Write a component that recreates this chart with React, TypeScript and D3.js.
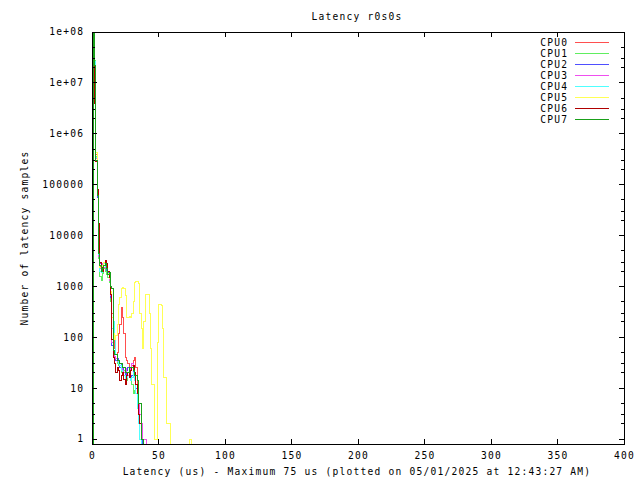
import React from 'react';
import * as d3 from 'd3';

// latency histogram, one count per microsecond bin (0 = no samples)
const cpuNames = ['CPU0', 'CPU1', 'CPU2', 'CPU3', 'CPU4', 'CPU5', 'CPU6', 'CPU7'];
const cpuColors = ['#ff4f4f', '#60ee60', '#4f4fff', '#ef4fef', '#4fffff', '#ffff55', '#b00000', '#1aa01a'];

const cpu0 = [0, 9e7, 1.8e7, 4e5, 7e4, 1.2e4, 2500, 2000, 1800, 2200, 2600, 2400, 2000, 1500, 700, 300, 90, 60, 45, 50, 120, 180, 380, 250, 120, 40, 35, 30, 25, 22, 28, 35, 40, 25, 10, 4, 2, 1, 0];
const cpu1 = [0, 9.5e7, 2.8e7, 3.5e5, 6e4, 3500, 1600, 1300, 1800, 2200, 2000, 1700, 1500, 1200, 500, 90, 50, 40, 35, 30, 28, 25, 20, 18, 22, 16, 14, 18, 20, 15, 12, 8, 9, 12, 6, 3, 1, 0];
const cpu2 = [0, 9.3e7, 2e7, 3e5, 5.5e4, 4000, 2800, 2300, 2500, 3000, 2600, 2100, 1900, 1400, 600, 70, 45, 40, 35, 38, 30, 26, 30, 24, 20, 18, 22, 25, 20, 16, 18, 22, 15, 10, 6, 2, 2, 1, 0];
const cpu3 = [0, 9.2e7, 2e7, 3.2e5, 6e4, 3800, 2200, 2600, 2800, 2400, 2700, 2200, 1700, 1300, 650, 80, 50, 42, 38, 34, 30, 28, 25, 22, 20, 24, 20, 18, 22, 26, 30, 24, 18, 12, 8, 5, 3, 2, 1, 1, 1, 0];
const cpu4 = [0, 9.4e7, 2.6e7, 3.4e5, 6.5e4, 4200, 2000, 1900, 2400, 2800, 2500, 2300, 1800, 1500, 800, 150, 200, 90, 45, 35, 30, 28, 22, 20, 18, 15, 16, 20, 18, 14, 16, 20, 14, 8, 4, 2, 1, 0];
const cpu5 = [0, 9e7, 2.2e7, 4.3e5, 7.5e4, 5000, 2400, 2100, 2600, 3000, 2700, 2200, 1800, 1400, 800, 250, 120, 90, 110, 180, 450, 600, 900, 950, 900, 650, 250, 250, 260, 240, 300, 500, 1200, 1250, 1250, 1150, 300, 150, 60, 200, 700, 700, 700, 300, 60, 12, 12, 1, 1, 80, 450, 450, 430, 150, 16, 16, 2, 2, 2, 0, 0, 0, 0, 0, 0, 0, 0, 0, 0, 0, 0, 0, 0, 1, 1, 0];
const cpu6 = [0, 1e8, 4e6, 2.8e5, 8e4, 1.7e4, 3000, 2400, 2000, 2600, 3200, 2800, 2000, 1500, 700, 90, 40, 30, 20, 25, 22, 14, 18, 20, 15, 12, 18, 20, 16, 22, 25, 28, 20, 12, 8, 3, 2, 1, 1, 0];
const cpu7 = [0, 9.5e7, 2.2e7, 3e5, 6e4, 4500, 2600, 2000, 2200, 2600, 2800, 2300, 1700, 1900, 1000, 900, 55, 45, 45, 35, 35, 30, 30, 25, 25, 20, 20, 20, 25, 25, 25, 22, 18, 18, 14, 5, 5, 1, 1, 0];

const series = [cpu0, cpu1, cpu2, cpu3, cpu4, cpu5, cpu6, cpu7];

const xTicks = [0, 50, 100, 150, 200, 250, 300, 350, 400];
const yTicks = [1, 10, 100, 1000, 10000, 100000, 1e6, 1e7, 1e8];
const yTickLabels = ['1', '10', '100', '1000', '10000', '100000', '1e+06', '1e+07', '1e+08'];
const minorSteps = [2, 3, 5];

const title = 'Latency r0s0s';
const xTitle = 'Latency (us) - Maximum 75 us (plotted on 05/01/2025 at 12:43:27 AM)';
const yTitle = 'Number of latency samples';

const W = 640;
const H = 480;
const left = 92;
const right = 624;
const top = 32;
const bottom = 444;

// small mono font with wide spacing, roughly the 7px cell of gnuplot's bitmap font
const font = '"DejaVu Sans Mono", monospace';
const fs = 9.6;
const ls = 1.22;

const App = () => {
  const x = d3.scaleLinear().domain([0, 400]).range([left, right]);
  const y = d3.scaleLog().domain([0.8, 1e8]).range([bottom, top]);
  const yFloor = bottom + 6;

  const line = d3.line<[number, number]>()
    .x(d => x(d[0]))
    .y(d => (d[1] > 0 ? y(d[1]) : yFloor))
    .curve(d3.curveStepAfter);

  const minors: number[] = [];
  yTicks.slice(0, -1).forEach(t => minorSteps.forEach(m => minors.push(t * m)));

  return (
    <svg width={W} height={H} style={{ position: 'absolute', left: 0, top: 0, background: '#fff' }}
      fontFamily={font} fontSize={fs} letterSpacing={ls}>
      <defs>
        <clipPath id="plot">
          <rect x={left} y={top} width={right - left} height={bottom - top} />
        </clipPath>
      </defs>

      {/* data */}
      <g clipPath="url(#plot)" fill="none" strokeWidth={1}>
        {series.map((s, i) => (
          <path key={i} d={line(s.map((v, k) => [k, v] as [number, number])) || ''}
            stroke={cpuColors[i]} shapeRendering="crispEdges" />
        ))}
      </g>

      {/* frame + ticks */}
      <g stroke="#000" strokeWidth={1} shapeRendering="crispEdges">
        <rect x={left + 0.5} y={top + 0.5} width={right - left} height={bottom - top} fill="none" />
        {xTicks.map(t => (
          <g key={t}>
            <line x1={x(t)} x2={x(t)} y1={bottom} y2={bottom - 5} />
            <line x1={x(t)} x2={x(t)} y1={top} y2={top + 5} />
          </g>
        ))}
        {yTicks.map(t => (
          <g key={t}>
            <line x1={left} x2={left + 5} y1={y(t)} y2={y(t)} />
            <line x1={right} x2={right - 5} y1={y(t)} y2={y(t)} />
          </g>
        ))}
        {minors.map(t => (
          <g key={t}>
            <line x1={left} x2={left + 3} y1={y(t)} y2={y(t)} />
            <line x1={right} x2={right - 3} y1={y(t)} y2={y(t)} />
          </g>
        ))}
      </g>

      {/* tick labels */}
      {xTicks.map(t => (
        <text key={t} x={x(t) + ls / 2} y={459} textAnchor="middle">{t}</text>
      ))}
      {yTicks.map((t, i) => (
        <text key={t} x={83 + ls} y={y(t)} dy="0.35em" textAnchor="end">{yTickLabels[i]}</text>
      ))}

      <text x={357} y={20} textAnchor="middle">{title}</text>
      <text x={357} y={475} textAnchor="middle">{xTitle}</text>
      <text transform={`translate(28,238) rotate(-90)`} textAnchor="middle">{yTitle}</text>

      {/* legend */}
      {cpuNames.map((n, i) => {
        const ly = 42.7 + i * 10.95;
        return (
          <g key={n}>
            <text x={567 + ls} y={ly} dy="0.35em" textAnchor="end">{n}</text>
            <line x1={575} x2={609} y1={ly} y2={ly} stroke={cpuColors[i]} strokeWidth={1} shapeRendering="crispEdges" />
          </g>
        );
      })}
    </svg>
  );
};

export default App;
